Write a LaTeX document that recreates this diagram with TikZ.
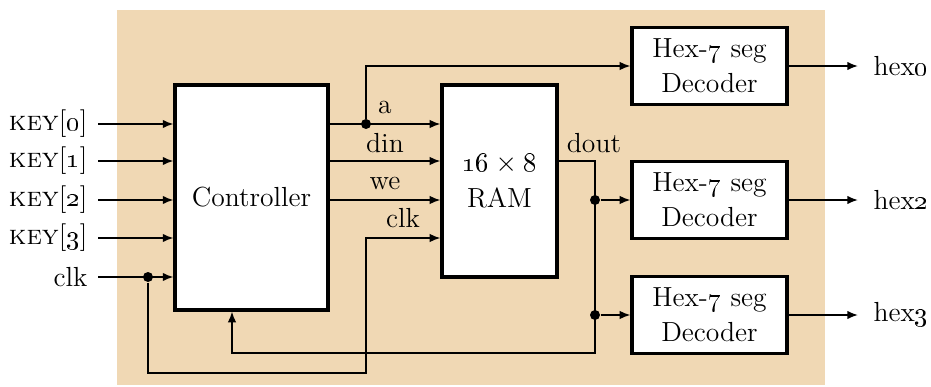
\documentclass[tikz,border=0pt]{standalone}
\usetikzlibrary{arrows.meta}

\definecolor{panel}{RGB}{240,216,180}

\tikzset{
    block/.style={draw,line width=1.3pt,fill=white,align=center,inner sep=2pt,
        font=\fontsize{11}{14}\selectfont},
    wire/.style={line width=0.7pt,-{Latex[length=1.5mm,width=1.2mm]}},
    line/.style={line width=0.7pt},
    jdot/.style={circle,fill,inner sep=0pt,minimum size=1.4mm},
    lbl/.style={inner sep=0pt,font=\fontsize{11}{14}\selectfont}
}

\begin{document}
\begin{tikzpicture}[x=0.014cm,y=-0.014cm]
    \useasboundingbox (0,0) rectangle (931,387);
    \fill[panel] (117,10) rectangle (825,385);

    % blocks
    \node[block,minimum width=2.14cm,minimum height=3.15cm] (ctrl) at (251.5,197.5) {Controller};
    \node[block,minimum width=1.61cm,minimum height=2.69cm] (ram) at (499.5,181) {\oldstylenums{16}${}\times{}$\oldstylenums{8}\\RAM};
    \node[block,minimum width=2.17cm,minimum height=1.08cm] (dec0) at (709.5,66) {Hex-\oldstylenums{7} seg\\Decoder};
    \node[block,minimum width=2.17cm,minimum height=1.08cm] (dec2) at (709.5,200) {Hex-\oldstylenums{7} seg\\Decoder};
    \node[block,minimum width=2.17cm,minimum height=1.08cm] (dec3) at (709.5,315) {Hex-\oldstylenums{7} seg\\Decoder};

    % helper coordinates
    \coordinate (bus) at (366,0);
    \coordinate (split) at (595,0);
    \coordinate (fbx) at (232,0);
    \coordinate (low) at (0,373);
    \coordinate (fb) at (0,353);

    % inputs
    \foreach \i/\y in {0/124,1/161,2/200,3/238}{
        \node[lbl,anchor=east] (key\i) at (88,\y) {\textsc{key}[\oldstylenums{\i}]};
        \coordinate (in\i) at (98,\y);
        \draw[wire] (in\i) -- (in\i -| ctrl.west);
    }
    \node[lbl,anchor=east] (clkin) at (88,277) {clk};
    \coordinate (in4) at (98,277);
    \draw[wire] (in4) -- (in4 -| ctrl.west);
    \node[jdot] (clkdot) at (in4 -| 148,0) {};

    % controller -> ram
    \draw[wire] (in0 -| ctrl.east) -- (in0 -| ram.west);
    \draw[wire] (in1 -| ctrl.east) -- (in1 -| ram.west);
    \draw[wire] (in2 -| ctrl.east) -- (in2 -| ram.west);
    \node[jdot] (adot) at (in0 -| bus) {};
    \draw[wire] (adot) |- (dec0.west);
    \draw[wire] (clkdot) |- (low -| bus) |- (in3 -| ram.west);

    \node[lbl,anchor=base] (la) at (385,113) {a};
    \node[lbl,anchor=base] (ldin) at (385,152) {din};
    \node[lbl,anchor=base] (lwe) at (385,189) {we};
    \node[lbl,anchor=base] (lclk) at (403,227) {clk};
    \node[lbl,anchor=base] (ldout) at (594,152) {dout};

    % ram -> decoders, feedback
    \draw[wire] (in1 -| ram.east) -| (fb -| split) -| (fbx |- ctrl.south);
    \node[jdot] (d2) at (split |- dec2) {};
    \node[jdot] (d3) at (split |- dec3) {};
    \draw[wire] (d2) -- (dec2.west);
    \draw[wire] (d3) -- (dec3.west);

    % outputs
    \node[lbl,anchor=west] (hex0) at (873,66) {hex\oldstylenums{0}};
    \node[lbl,anchor=west] (hex2) at (873,200) {hex\oldstylenums{2}};
    \node[lbl,anchor=west] (hex3) at (873,315) {hex\oldstylenums{3}};
    \draw[wire,shorten >=2.1mm] (dec0.east) -- (hex0.west);
    \draw[wire,shorten >=2.1mm] (dec2.east) -- (hex2.west);
    \draw[wire,shorten >=2.1mm] (dec3.east) -- (hex3.west);
\end{tikzpicture}
\end{document}
